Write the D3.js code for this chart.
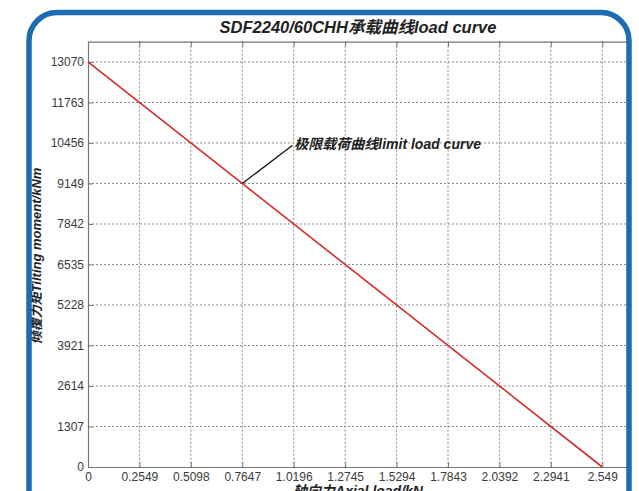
<!DOCTYPE html>
<html>
<head>
<meta charset="utf-8">
<script src="https://cdn.jsdelivr.net/npm/d3@7"></script>
<style>
html,body{margin:0;padding:0;background:#fff;}
svg{display:block;}
</style>
</head>
<body>
<svg id="chart" width="639" height="491"></svg>
<script>
// ---- data ----
const axialLoad = [0, 2.549];          // kN
const tiltingMoment = [13070, 0];      // kNm
const xTicks = [0, 0.2549, 0.5098, 0.7647, 1.0196, 1.2745, 1.5294, 1.7843, 2.0392, 2.2941, 2.549];
const xTickLabels = ["0","0.2549","0.5098","0.7647","1.0196","1.2745","1.5294","1.7843","2.0392","2.2941","2.549"];
const yTicks = [0, 1307, 2614, 3921, 5228, 6535, 7842, 9149, 10456, 11763, 13070];
const yTickLabels = ["0","1307","2614","3921","5228","6535","7842","9149","10456","11763","13070"];
const titleText = "SDF2240/60CHH承载曲线load curve";
const xTitle = "轴向力Axial load/kN";
const yTitle = "倾覆力矩Tilting moment/kNm";
const annotation = {x: 0.7647, y: 9149, text: "极限载荷曲线limit load curve"};

// ---- layout ----
const svg = d3.select("#chart");
const L = 88, T = 41.7, B = 467, R = 628;
const x = d3.scaleLinear().domain([0, 2.549 * 1.05]).range([L, R]);
const y = d3.scaleLinear().domain([0, 13070 * 1.05]).range([B, T]);

const font = "'Liberation Sans', Arial, 'Noto Sans CJK SC', sans-serif";
const grid = "#8a8a8a", axisCol = "#777";

svg.append("rect").attr("width", 639).attr("height", 491).attr("fill", "#fff");

const g = svg.append("g");

// grid lines
g.selectAll(".vg").data(xTicks.slice(1)).join("line")
  .attr("x1", d => x(d)).attr("x2", d => x(d))
  .attr("y1", T).attr("y2", B)
  .attr("stroke", grid).attr("stroke-width", 1).attr("stroke-dasharray", "2,2");
g.selectAll(".hg").data(yTicks.slice(1)).join("line")
  .attr("x1", L).attr("x2", R)
  .attr("y1", d => y(d)).attr("y2", d => y(d))
  .attr("stroke", grid).attr("stroke-width", 1).attr("stroke-dasharray", "2,2");

// axes (MATLAB-like box with inward ticks)
const xAxisB = d3.axisBottom(x).tickValues(xTicks).tickSizeInner(-5).tickSizeOuter(0)
  .tickFormat((d, i) => xTickLabels[i]).tickPadding(5);
const xAxisT = d3.axisTop(x).tickValues(xTicks).tickSizeInner(-5).tickSizeOuter(0).tickFormat("");
const yAxisL = d3.axisLeft(y).tickValues(yTicks).tickSizeInner(-5).tickSizeOuter(0)
  .tickFormat((d, i) => yTickLabels[i]).tickPadding(4);

function style(sel) {
  sel.select(".domain").attr("stroke", axisCol).attr("stroke-width", 1.2);
  sel.selectAll(".tick line").attr("stroke", axisCol);
  sel.selectAll(".tick text").attr("fill", "#3a3a3a").attr("font-size", 12).attr("font-family", font);
}
g.append("g").attr("transform", `translate(0,${B})`).call(xAxisB).call(style);
g.append("g").attr("transform", `translate(0,${T})`).call(xAxisT).call(style);
g.append("g").attr("transform", `translate(${L},0)`).call(yAxisL).call(style);

// load curve
const pts = axialLoad.map((d, i) => [d, tiltingMoment[i]]);
g.append("path").datum(pts)
  .attr("d", d3.line().x(d => x(d[0])).y(d => y(d[1])))
  .attr("fill", "none").attr("stroke", "#d42a2a").attr("stroke-width", 1.6);

// annotation
const ax = x(annotation.x), ay = y(annotation.y);
g.append("line").attr("x1", ax).attr("y1", ay).attr("x2", ax + 50).attr("y2", ay - 38)
  .attr("stroke", "#111").attr("stroke-width", 1.3);
g.append("text").attr("x", ax + 52).attr("y", ay - 34)
  .attr("font-family", font).attr("font-size", 14).attr("font-weight", "bold").attr("font-style", "italic")
  .attr("fill", "#222").text(annotation.text);

// titles
svg.append("text").attr("x", (L + R) / 2).attr("y", 33).attr("text-anchor", "middle")
  .attr("font-family", font).attr("font-size", 16.5).attr("font-weight", "bold").attr("font-style", "italic")
  .attr("fill", "#222").text(titleText);
svg.append("text").attr("x", 358).attr("y", 496).attr("text-anchor", "middle")
  .attr("font-family", font).attr("font-size", 14).attr("font-weight", "bold").attr("font-style", "italic")
  .attr("fill", "#222").text(xTitle);
svg.append("text").attr("transform", "translate(41,256) rotate(-90)").attr("text-anchor", "middle")
  .attr("font-family", font).attr("font-size", 13).attr("font-weight", "bold").attr("font-style", "italic")
  .attr("fill", "#222").text(yTitle);

// outside-frame whiteout and blue rounded frame
svg.append("rect").attr("x", 631).attr("y", 0).attr("width", 8).attr("height", 491).attr("fill", "#fff");
svg.append("rect").attr("x", 29).attr("y", 12.5).attr("width", 600).attr("height", 520)
  .attr("rx", 28).attr("ry", 28)
  .attr("fill", "none").attr("stroke", "#1c6bb3").attr("stroke-width", 5.5);
</script>
</body>
</html>
